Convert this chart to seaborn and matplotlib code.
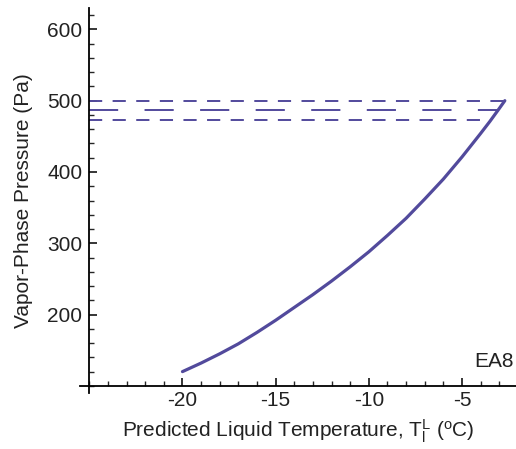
import numpy as np
import pandas as pd
import seaborn as sns
from matplotlib import pyplot as plt
from matplotlib.ticker import MultipleLocator

# Vapor-phase pressure curve
temp_c = [-20, -19, -18, -17, -16, -15, -14, -13, -12, -11, -10,
          -9, -8, -7, -6, -5, -4, -3.5, -3, -2.7]
pressure_pa = [120, 132, 145, 159, 175, 192, 210, 228, 247, 267, 288,
               311, 335, 362, 390, 421, 454, 471, 489, 500]

# horizontal reference levels (dashed)
level_pa = [500, 486.5, 473]
level_end_c = [-2.7, -3.05, -3.45]
level_dashes = [(9.5, 7.5), (21, 19), (9.5, 7.5)]
level_start_c = -25

curve = pd.DataFrame({'T': temp_c, 'P': pressure_pa})
line_color = '#524a9c'
text_color = '#222222'

sns.set_style('ticks')
plt.rcParams['font.family'] = ['Liberation Sans', 'DejaVu Sans']
plt.rcParams['mathtext.fontset'] = 'custom'
plt.rcParams['mathtext.rm'] = 'Liberation Sans'
plt.rcParams['mathtext.it'] = 'Liberation Sans:italic'
plt.rcParams['lines.scale_dashes'] = False

fig = plt.figure(figsize=(5.16, 4.49), dpi=100)
ax = fig.add_axes([0.155, 0.1247, 0.845, 0.8575])

for lvl, t_end, dash in zip(level_pa, level_end_c, level_dashes):
    seg = pd.DataFrame({'T': [level_start_c, t_end], 'P': [lvl, lvl]})
    sns.lineplot(data=seg, x='T', y='P', ax=ax, color=line_color,
                 linewidth=1.4, linestyle=(0, dash))

sns.lineplot(data=curve, x='T', y='P', ax=ax, color=line_color, linewidth=2.3)

ax.set_xlim(-25.5, -2.1)
ax.set_ylim(90, 630)
ax.spines['left'].set_position(('data', -25))
ax.spines['bottom'].set_position(('data', 100))
for s in ['left', 'bottom']:
    ax.spines[s].set_linewidth(1.3)
    ax.spines[s].set_color('black')
sns.despine(ax=ax)

ax.set_xticks([-20, -15, -10, -5])
ax.set_xticklabels(['-20', '-15', '-10', '-5'])
ax.set_yticks([200, 300, 400, 500, 600])
ax.xaxis.set_minor_locator(MultipleLocator(1))
ax.yaxis.set_minor_locator(MultipleLocator(20))
ax.tick_params(which='major', direction='in', length=6, width=1.1,
               labelsize=15, colors='black', labelcolor=text_color)
ax.tick_params(which='minor', direction='in', length=3.5, width=1.0)
ax.tick_params(axis='x', which='major', pad=4)
ax.tick_params(axis='y', which='major', pad=5)

ax.set_xlabel(r'Predicted Liquid Temperature, T$_\mathrm{l}^\mathrm{L}$ ($^\mathrm{o}$C)',
              fontsize=15, color=text_color, labelpad=5)
ax.set_ylabel('Vapor-Phase Pressure (Pa)', fontsize=15, color=text_color, labelpad=10)

ax.text(0.995, 0.082, 'EA8', transform=ax.transAxes, ha='right', va='center',
        fontsize=15, color=text_color)

plt.savefig('out.png', dpi=100)
